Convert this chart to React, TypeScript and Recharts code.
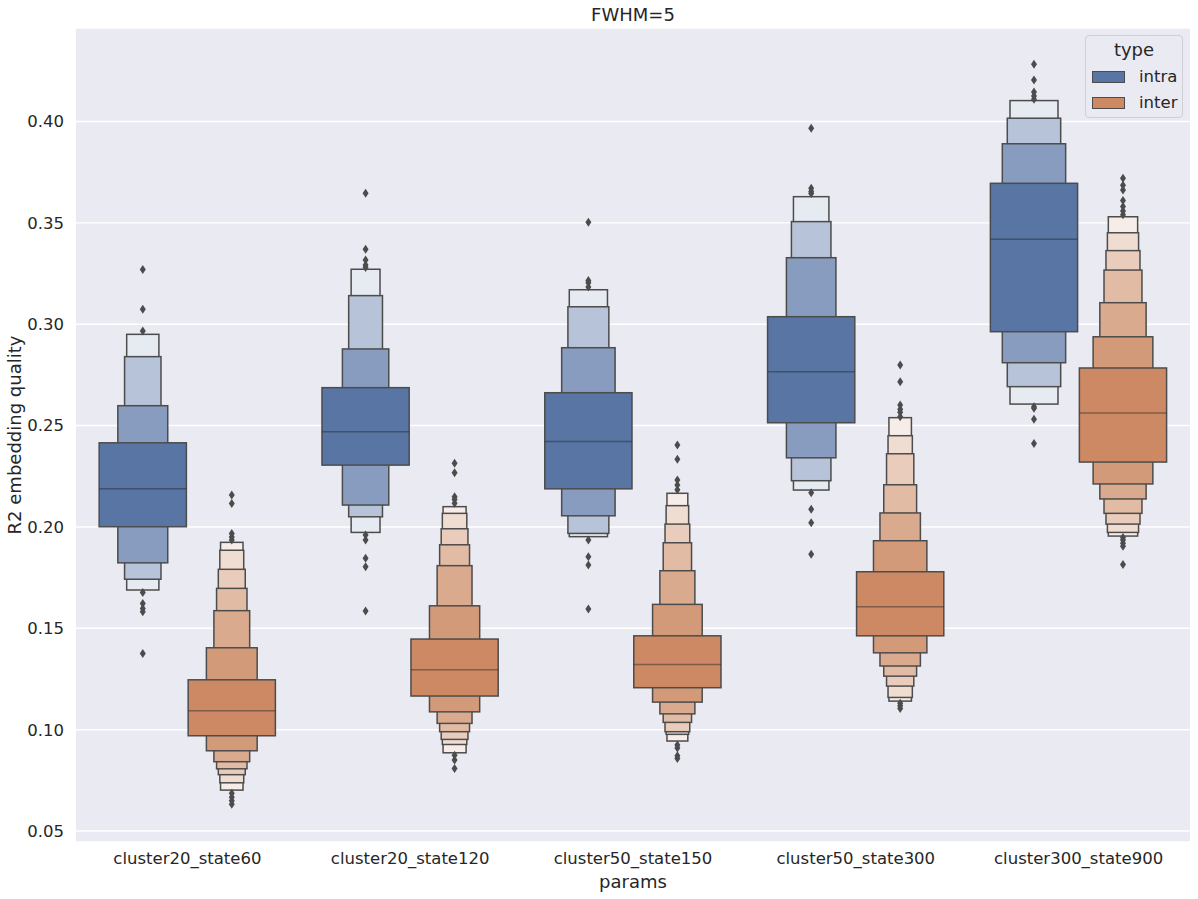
import { Bar, BarChart, CartesianGrid, Legend, XAxis, YAxis } from 'recharts'

const params = ['cluster20_state60', 'cluster20_state120', 'cluster50_state150', 'cluster50_state300', 'cluster300_state900']
const yTicks = [0.05, 0.1, 0.15, 0.2, 0.25, 0.3, 0.35, 0.4]

// letter-value boxes, innermost box first
const intraMedian = [0.2188, 0.247, 0.2422, 0.2766, 0.3419]
const intraUpper = [
  [0.2415, 0.2598, 0.284, 0.295],
  [0.2687, 0.2878, 0.3141, 0.3271],
  [0.2662, 0.2884, 0.3086, 0.317],
  [0.3037, 0.3328, 0.3506, 0.3629],
  [0.3695, 0.389, 0.4016, 0.4103],
]
const intraLower = [
  [0.2001, 0.1823, 0.1742, 0.1689],
  [0.2305, 0.2108, 0.205, 0.1973],
  [0.2188, 0.2055, 0.1968, 0.1952],
  [0.2514, 0.2341, 0.2228, 0.2182],
  [0.2963, 0.281, 0.2692, 0.2606],
]
const intraOutliers = [
  [0.327, 0.3074, 0.2966, 0.1677, 0.1623, 0.1598, 0.1582, 0.1376],
  [0.3646, 0.337, 0.3317, 0.3292, 0.328, 0.196, 0.1935, 0.1845, 0.1804, 0.1585],
  [0.3503, 0.3215, 0.3205, 0.3183, 0.1935, 0.1853, 0.1812, 0.1595],
  [0.3966, 0.367, 0.3655, 0.3645, 0.2169, 0.2087, 0.2021, 0.1865],
  [0.4282, 0.4205, 0.4145, 0.4125, 0.411, 0.2593, 0.2585, 0.2531, 0.2412],
]

const interMedian = [0.1093, 0.1296, 0.1322, 0.1606, 0.2562]
const interUpper = [
  [0.1246, 0.1404, 0.1587, 0.1697, 0.1791, 0.1885, 0.1924],
  [0.1447, 0.1611, 0.1809, 0.1912, 0.1991, 0.2067, 0.21],
  [0.1463, 0.1618, 0.1784, 0.1922, 0.2014, 0.2105, 0.2166],
  [0.1779, 0.1932, 0.2069, 0.2208, 0.2361, 0.245, 0.2539],
  [0.2784, 0.2938, 0.3106, 0.3267, 0.3363, 0.3451, 0.353],
]
const interLower = [
  [0.097, 0.0896, 0.0842, 0.0807, 0.0778, 0.0738, 0.0702],
  [0.1166, 0.1088, 0.1031, 0.099, 0.0952, 0.0927, 0.0886],
  [0.1207, 0.1136, 0.1078, 0.1036, 0.099, 0.0977, 0.0944],
  [0.1463, 0.1379, 0.1314, 0.1264, 0.1215, 0.1159, 0.1141],
  [0.232, 0.2212, 0.2138, 0.2067, 0.2014, 0.1973, 0.1955],
]
const interOutliers = [
  [0.2157, 0.2116, 0.1968, 0.195, 0.1935, 0.0687, 0.0667, 0.065, 0.0632],
  [0.2314, 0.2267, 0.2149, 0.2135, 0.2117, 0.0874, 0.085, 0.0809],
  [0.2404, 0.2334, 0.2231, 0.2207, 0.2183, 0.0924, 0.091, 0.0872, 0.0858],
  [0.2799, 0.2716, 0.2601, 0.2581, 0.2566, 0.2544, 0.113, 0.1118, 0.1105],
  [0.372, 0.3685, 0.3662, 0.361, 0.358, 0.3558, 0.354, 0.1948, 0.1935, 0.192, 0.1905, 0.1815],
]

const COLORS: Record<string, number[]> = { intra: [88, 117, 164], inter: [204, 137, 99] }
const GRAY = '#4c4c4c'
const FONT = 'DejaVu Sans, sans-serif'

type Boxen = { median: number; upper: number[]; lower: number[]; outliers: number[] }

const span = (b: Boxen) => [
  Math.min(...b.lower, ...b.outliers),
  Math.max(...b.upper, ...b.outliers),
]

const data = params.map((param, i) => {
  const intra = { median: intraMedian[i], upper: intraUpper[i], lower: intraLower[i], outliers: intraOutliers[i] }
  const inter = { median: interMedian[i], upper: interUpper[i], lower: interLower[i], outliers: interOutliers[i] }
  return { param, intra, inter, intraSpan: span(intra), interSpan: span(inter) }
})

const mix = (rgb: number[], t: number) =>
  `rgb(${rgb.map((c) => Math.round(c + (255 - c) * t)).join(',')})`

function BoxenShape(props: any) {
  const { x, y, width, height, payload, hue } = props
  const box: Boxen = payload[hue]
  const [lo, hi] = payload[hue + 'Span']
  const top = Math.min(y, y + height)
  const bottom = Math.max(y, y + height)
  const py = (v: number) => bottom - ((v - lo) / (hi - lo)) * (bottom - top)
  const cx = x + width / 2
  const full = width * 0.98
  const k = box.upper.length
  // seaborn "area" scale
  const raw = box.upper.map((u, j) => (1 - Math.pow(2, -j - 3)) / (u - box.lower[j]))
  const wmax = Math.max(...raw)
  const levels = []
  for (let j = k - 1; j >= 0; j--) {
    const w = (raw[j] / wmax) * full
    const y1 = py(box.upper[j])
    const y2 = py(box.lower[j])
    levels.push(
      <rect key={j} x={cx - w / 2} y={y1} width={w} height={y2 - y1}
        fill={mix(COLORS[hue], (0.85 * j) / (k - 1))} stroke={GRAY} strokeWidth={1.5} />
    )
  }
  const my = py(box.median)
  return (
    <g>
      {levels}
      <line x1={cx - full / 2} x2={cx + full / 2} y1={my} y2={my} stroke="rgba(38,38,38,0.45)" strokeWidth={1.5} />
      {box.outliers.map((v, i) => {
        const oy = py(v)
        return <path key={'o' + i} d={`M${cx},${oy - 4.5}L${cx + 3},${oy}L${cx},${oy + 4.5}L${cx - 3},${oy}Z`} fill={GRAY} />
      })}
    </g>
  )
}

function TypeLegend() {
  const rows = ['intra', 'inter']
  return (
    <div style={{ position: 'relative', width: 98, height: 83, boxSizing: 'border-box', border: '1px solid #cfcfd6',
      borderRadius: 4, background: 'rgba(234,234,242,0.8)', fontFamily: FONT, color: '#262626' }}>
      <div style={{ position: 'absolute', left: 0, width: 96, top: 3, textAlign: 'center', fontSize: 18, lineHeight: '22px' }}>type</div>
      {rows.map((r, i) => (
        <div key={r}>
          <div style={{ position: 'absolute', left: 6, top: 35 + i * 26, width: 33, height: 12, boxSizing: 'border-box',
            background: mix(COLORS[r], 0), border: `1px solid ${GRAY}` }} />
          <div style={{ position: 'absolute', left: 53, top: 30 + i * 26, fontSize: 16.5, lineHeight: '22px' }}>{r}</div>
        </div>
      ))}
    </div>
  )
}

export default function App() {
  return (
    <div style={{ position: 'absolute', left: 0, top: 0, background: '#fff' }}>
      <BarChart width={1198} height={899} data={data} margin={{ top: 28, right: 8, left: 0, bottom: 0 }}
        barCategoryGap="10%" barGap={0} style={{ fontFamily: FONT }}>
        <CartesianGrid vertical={false} fill="#eaeaf2" stroke="#ffffff" strokeWidth={1.4} />
        <XAxis dataKey="param" height={57} axisLine={false} tickLine={false} tickSize={0} tickMargin={10}
          tick={{ fill: '#262626', fontSize: 16.5 }} />
        <YAxis type="number" domain={[0.0446, 0.4461]} ticks={yTicks} width={76} axisLine={false} tickLine={false}
          tickSize={0} tickMargin={12} tick={{ fill: '#262626', fontSize: 16.5 }}
          tickFormatter={(v: number) => v.toFixed(2)} allowDataOverflow />
        <Bar dataKey="intraSpan" fill="none" isAnimationActive={false} shape={(p: any) => <BoxenShape {...p} hue="intra" />} />
        <Bar dataKey="interSpan" fill="none" isAnimationActive={false} shape={(p: any) => <BoxenShape {...p} hue="inter" />} />
        <Legend layout="horizontal" verticalAlign="middle" align="center" content={() => <TypeLegend />}
          wrapperStyle={{ left: 1085, top: 35, width: 98, height: 83 }} />
        <text x={633} y={21} textAnchor="middle" fontSize={18} fill="#262626">FWHM=5</text>
        <text x={633} y={888} textAnchor="middle" fontSize={18} fill="#262626">params</text>
        <text transform="translate(21,435) rotate(-90)" textAnchor="middle" fontSize={18} fill="#262626">R2 embedding quality</text>
      </BarChart>
    </div>
  )
}
